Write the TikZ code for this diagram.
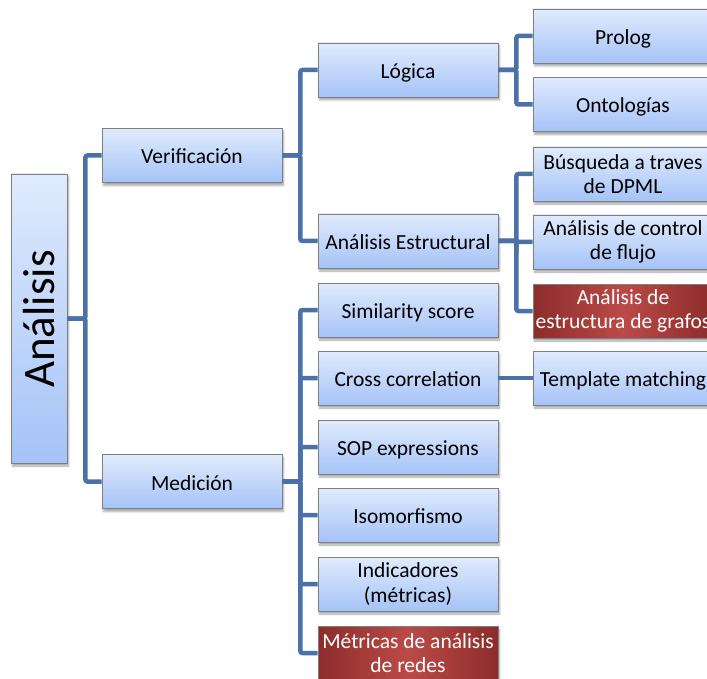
\documentclass[tikz,border=0pt]{standalone}
\usepackage{fontspec}
\setmainfont{Carlito}
\usetikzlibrary{shadows.blur}
\definecolor{linkblue}{HTML}{4A72A8}
\definecolor{boxtop}{HTML}{E0EBFD}
\definecolor{boxbot}{HTML}{A5C3F7}
\definecolor{redside}{HTML}{8C2D2B}
\definecolor{redmid}{HTML}{BB4A47}
\definecolor{boxline}{HTML}{7F7F7F}
\begin{document}
\begin{tikzpicture}[x=1pt,y=-1pt,
  base/.style={draw=boxline, line width=0.8pt, align=center, inner sep=0pt,
    blur shadow={shadow xshift=1.5pt, shadow yshift=-3pt, shadow blur steps=6, shadow opacity=35},
    font=\fontsize{21.5}{24.5}\selectfont},
  bluebox/.style={base, top color=boxtop, bottom color=boxbot, text=black,
    minimum width=180pt, minimum height=54pt},
  redbox/.style={base, left color=redside, right color=redside, middle color=redmid,
    text=white, minimum width=180pt, minimum height=54pt},
  oneline/.style={text height=21pt, text depth=4pt},
  link/.style={draw=linkblue, line width=4.5pt, rounded corners=2pt},
  branch/.style={to path={(\tikztostart) -- ++(18,0) |- (\tikztotarget)}}
]
\useasboundingbox (0,0) rectangle (707,679);

% root
\node[base, top color=boxtop, bottom color=boxbot, minimum width=56pt, minimum height=289pt] (root) at (39,318.5) {};
\node[rotate=90, font=\fontsize{45}{50}\selectfont, text=black] (roottext) at (39,319) {Análisis};

% second level
\node[bluebox, oneline] (ver) at (192,155.5) {Verificación};
\node[bluebox, oneline] (med) at (192,481.5) {Medición};

% third level
\node[bluebox, oneline] (log) at (408,70) {Lógica};
\node[bluebox, oneline] (est) at (408,241) {Análisis Estructural};
\node[bluebox, oneline] (sim) at (408,310) {Similarity score};
\node[bluebox, oneline] (cross) at (408,378) {Cross correlation};
\node[bluebox, oneline] (sop) at (408,447) {SOP expressions};
\node[bluebox, oneline] (iso) at (408,515) {Isomorfismo};
\node[bluebox] (ind) at (408,584) {Indicadores\\(métricas)};
\node[redbox] (red) at (408,653) {Métricas de análisis\\de redes};

% fourth level
\node[bluebox, oneline] (pro) at (623,36) {Prolog};
\node[bluebox, oneline] (ont) at (623,104.5) {Ontologías};
\node[bluebox] (bus) at (623,174) {Búsqueda a traves\\de DPML};
\node[bluebox] (flu) at (623,242) {Análisis de control\\de flujo};
\node[redbox] (gra) at (623,311) {Análisis de\\estructura de grafos};
\node[bluebox, oneline] (tem) at (623,378) {Template matching};

% connectors
\begin{scope}[link]
  \draw (root.east) to[branch] (ver.west);
  \draw (root.east) to[branch] (med.west);
  \draw (ver.east) to[branch] (log.west);
  \draw (ver.east) to[branch] (est.west);
  \draw (med.east) to[branch] (sim.west);
  \draw (med.east) to[branch] (cross.west);
  \draw (med.east) to[branch] (sop.west);
  \draw (med.east) to[branch] (iso.west);
  \draw (med.east) to[branch] (ind.west);
  \draw (med.east) to[branch] (red.west);
  \draw (log.east) to[branch] (pro.west);
  \draw (log.east) to[branch] (ont.west);
  \draw (est.east) to[branch] (bus.west);
  \draw (est.east) to[branch] (flu.west);
  \draw (est.east) to[branch] (gra.west);
  \draw (cross.east) -- (tem.west);
\end{scope}
\end{tikzpicture}
\end{document}
